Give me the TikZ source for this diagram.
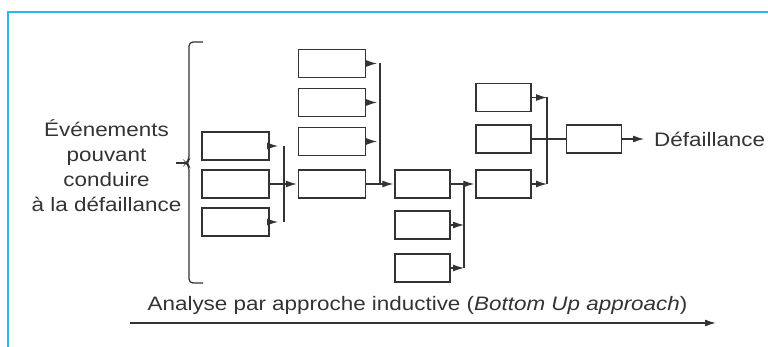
\documentclass[tikz,border=0pt]{standalone}
\usepackage{fontspec}
\setmainfont[FakeStretch=1.15]{Liberation Sans}
\usetikzlibrary{arrows.meta}

\definecolor{framecyan}{HTML}{2BB8EE}
\definecolor{ink}{HTML}{333333}

\begin{document}
\begin{tikzpicture}[x=1pt, y=-1pt]
        \tikzstyle{every node}=[text=ink, font=\fontsize{19.5}{25}\selectfont]
        \tikzstyle{wide}=[rectangle, draw=ink, line width=1.3pt, minimum width=67pt, minimum height=28pt, inner sep=0pt]
        \tikzstyle{narrow}=[wide, minimum width=55pt]
        \tikzstyle{edge}=[ink, line width=1.2pt]
        \tikzstyle{feed}=[edge, -{Latex[length=11pt, width=7pt]}]

        \useasboundingbox (0,0) rectangle (768,347);
        \draw[framecyan, line width=2pt] (768,12) -- (8,12) -- (8,347);

        % evenements de base
        \node[wide] (a1) at (235.5,146) {};
        \node[wide] (a2) at (235.5,184) {};
        \node[wide] (a3) at (235.5,222) {};

        \node[wide] (b1) at (332,63.5)  {};
        \node[wide] (b2) at (332,102.5) {};
        \node[wide] (b3) at (332,141.5) {};
        \node[wide] (b4) at (332,184)   {};

        \node[narrow] (c1) at (422.5,184) {};
        \node[narrow] (c2) at (422.5,225) {};
        \node[narrow] (c3) at (422.5,268) {};

        \node[narrow] (d1) at (503.5,97.5) {};
        \node[narrow] (d2) at (503.5,139)  {};
        \node[narrow] (d3) at (503.5,184)  {};

        \node[narrow] (e) at (594,139) {};

        \node[anchor=west, inner sep=0pt] (fail) at (654,139) {Défaillance};
        \node[align=center, inner sep=0pt] (events) at (106.5,165.5) {Événements\\pouvant\\conduire\\à la défaillance};

        % lignes de regroupement
        \coordinate (j1) at (284,0);
        \coordinate (j2) at (380,0);
        \coordinate (j3) at (464,0);
        \coordinate (j4) at (547,0);

        \draw[feed, shorten >=6pt] (a1.east) -- (a1.east -| j1);
        \draw[feed, shorten >=6pt] (a3.east) -- (a3.east -| j1);
        \draw[edge] (a1.east -| j1) -- (a3.east -| j1);
        \draw[feed, shorten >=1pt] (a2) -- (b4);

        \draw[feed, shorten >=3pt] (b1.east) -- (b1.east -| j2);
        \draw[feed, shorten >=3pt] (b2.east) -- (b2.east -| j2);
        \draw[feed, shorten >=3pt] (b3.east) -- (b3.east -| j2);
        \draw[edge] (b1.east -| j2) -- (b4.east -| j2);
        \draw[feed, shorten >=1pt] (b4) -- (c1);

        \draw[feed] (c2.east) -- (c2.east -| j3);
        \draw[feed] (c3.east) -- (c3.east -| j3);
        \draw[edge] (c1.east -| j3) -- (c3.east -| j3);
        \draw[feed, shorten >=1pt] (c1) -- (d3);

        \draw[feed] (d1.east) -- (d1.east -| j4);
        \draw[feed] (d3.east) -- (d3.east -| j4);
        \draw[edge] (d1.east -| j4) -- (d3.east -| j4);
        \draw[edge] (d2) -- (e);

        \draw[feed, shorten >=10pt] (e) -- (fail);

        % accolade
        \draw[edge, rounded corners=4pt] (203,42) -| (189,160) -- (186,163) -- (189,166) |- (203,283);
        \draw[edge] (176,163) -- (186,163);

        % sens de l'analyse
        \coordinate (axstart) at (130,323);
        \coordinate (axend)   at (716,323);
        \draw[feed, line width=1.4pt] (axstart) -- (axend);
        \node (approach) at (417.5,305) {Analyse par approche inductive (\textit{Bottom Up approach})};
\end{tikzpicture}
\end{document}
